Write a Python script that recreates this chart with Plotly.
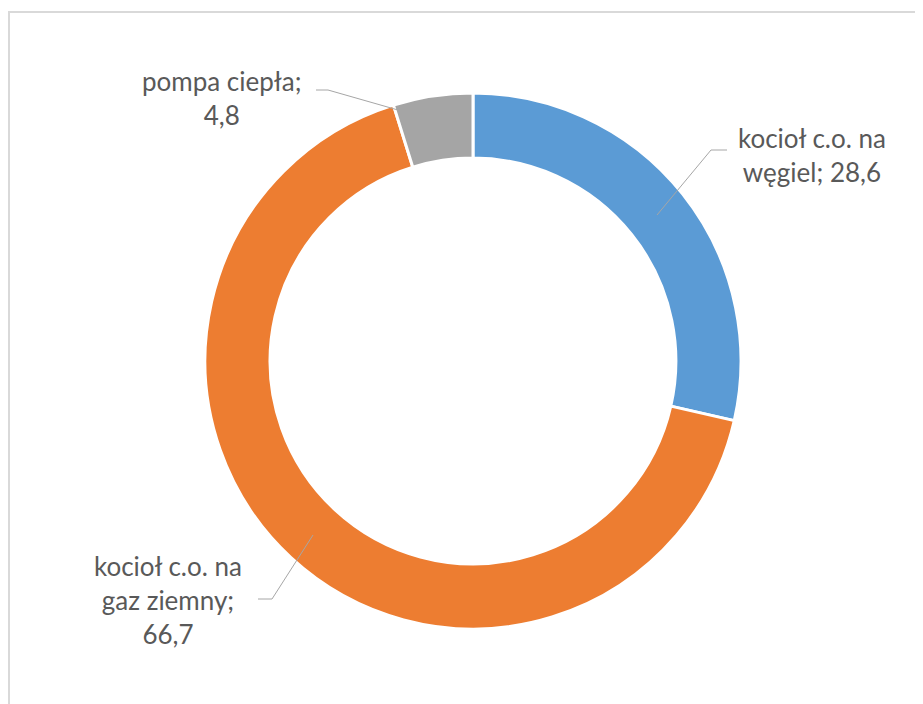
import plotly.graph_objects as go

W, H = 923, 704
OFF = 8  # page body offset

categories = ["kocioł c.o. na węgiel", "kocioł c.o. na gaz ziemny", "pompa ciepła"]
values = [28.6, 66.7, 4.8]
colors = ["#5B9BD5", "#ED7D31", "#A5A5A5"]
label_texts = ["kocioł c.o. na<br>węgiel; 28,6", "kocioł c.o. na<br>gaz ziemny;<br>66,7", "pompa ciepła;<br>4,8"]
label_pos = [(812, 155), (168, 600), (222, 98)]
leader_paths = [
    [(727, 150), (711, 150), (657, 215)],
    [(258, 599), (272, 599), (313, 535)],
    [(316, 90), (328, 90), (398, 110)],
]

def px(x):
    return (x - OFF) / W

def py(y):
    return 1 - (y - OFF) / H

cx, cy, R = 473, 361, 268

fig = go.Figure(go.Pie(
    labels=categories,
    values=values,
    hole=0.757,
    sort=False,
    direction="clockwise",
    rotation=0,
    marker=dict(colors=colors, line=dict(color="white", width=3)),
    textinfo="none",
    showlegend=False,
    domain=dict(x=[px(cx - R), px(cx + R)], y=[py(cy + R), py(cy - R)]),
))

for txt, (x, y) in zip(label_texts, label_pos):
    fig.add_annotation(x=px(x), y=py(y), xref="paper", yref="paper", text=txt,
                       showarrow=False, align="center", xanchor="center", yanchor="middle",
                       font=dict(family="Lato", size=26, color="#595959"))

for path in leader_paths:
    d = "M " + " L ".join(f"{px(x)},{py(y)}" for x, y in path)
    fig.add_shape(type="path", path=d, xref="paper", yref="paper",
                  line=dict(color="#A6A6A6", width=1))

fig.add_shape(type="rect", xref="paper", yref="paper",
              x0=px(9), y0=py(12), x1=px(960), y1=py(740),
              line=dict(color="#D9D9D9", width=2), fillcolor="rgba(0,0,0,0)")

fig.update_layout(width=W, height=H, margin=dict(l=0, r=0, t=0, b=0),
                  paper_bgcolor="white", plot_bgcolor="white")

fig.write_html("out.html")
